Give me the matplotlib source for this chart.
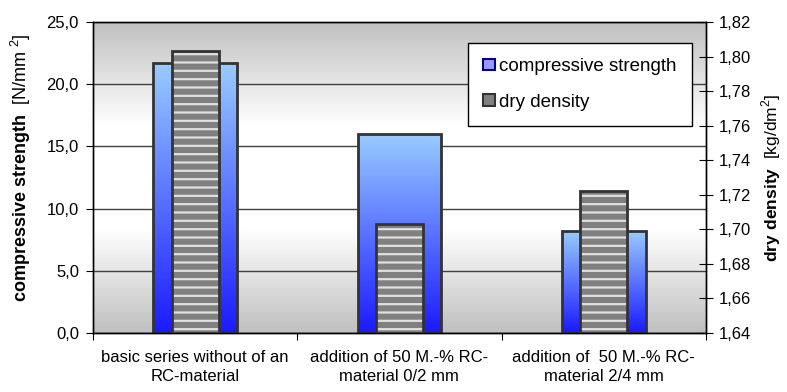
import matplotlib.pyplot as plt
import numpy as np
from matplotlib.colors import LinearSegmentedColormap
from matplotlib.patches import Patch
from matplotlib.ticker import FuncFormatter

categories = [
    "basic series without of an\nRC-material",
    "addition of 50 M.-% RC-\nmaterial 0/2 mm",
    "addition of  50 M.-% RC-\nmaterial 2/4 mm",
]
compressive_strength = [21.7, 16.0, 8.2]
dry_density = [1.803, 1.703, 1.722]

plt.rcParams["font.family"] = ["Liberation Sans", "DejaVu Sans"]
plt.rcParams["mathtext.fontset"] = "custom"
plt.rcParams["mathtext.rm"] = "Liberation Sans"
plt.rcParams["mathtext.bf"] = "Liberation Sans:bold"
plt.rcParams["hatch.linewidth"] = 1.6

fig = plt.figure(figsize=(7.87, 3.92), dpi=100)
ax = fig.add_axes([0.118, 0.1505, 0.779, 0.7935])
ax2 = ax.twinx()

x = np.arange(len(categories))

# background gradient: grey - white - grey
bg = LinearSegmentedColormap.from_list("bg", ["#c0c0c0", "#ffffff", "#ffffff", "#c0c0c0"])
ax.imshow(np.linspace(0, 1, 256).reshape(-1, 1), cmap=bg, aspect="auto",
          extent=(0, 1, 0, 1), transform=ax.transAxes, zorder=0)
ax.set_facecolor("none")
ax.yaxis.grid(True, color="#404040", lw=1)
ax.set_axisbelow(True)
for gl in ax.get_ygridlines():
    gl.set_zorder(1)

# blue bars with vertical gradient
blue = LinearSegmentedColormap.from_list("blue", ["#1a1aff", "#99ccff"])
bw = 0.41
bars = ax.bar(x, compressive_strength, width=bw, facecolor="none",
              edgecolor="#333333", lw=2, zorder=3)
for b in bars:
    im = ax.imshow(np.linspace(0, 1, 256).reshape(-1, 1), cmap=blue, origin="lower",
                   aspect="auto", extent=(b.get_x(), b.get_x() + b.get_width(), 0, b.get_height()),
                   zorder=2)
    im.set_clip_path(b)
ax.set_xlim(-0.5, 2.5)
ax.set_ylim(0, 25)
ax2.set_ylim(1.64, 1.82)

# grey striped bars
gw = 0.23
ax2.bar(x, np.array(dry_density) - 1.64, width=gw, bottom=1.64, color="#808080",
        edgecolor="#e0e0e0", hatch="--", lw=0, zorder=2)
ax2.bar(x, np.array(dry_density) - 1.64, width=gw, bottom=1.64, facecolor="none",
        edgecolor="#333333", lw=2, zorder=3)

# axes styling
ax.set_xticks([-0.5, 0.5, 1.5, 2.5])
ax.set_xticklabels([])
ax.set_xticks(x, minor=True)
ax.set_xticklabels(categories, minor=True, fontsize=12, linespacing=1.35)
ax.tick_params(axis="x", which="minor", length=0, pad=12)
ax.tick_params(axis="x", which="major", length=5, direction="out")
ax.set_yticks(np.arange(0, 26, 5))
ax.yaxis.set_major_formatter(FuncFormatter(lambda v, p: f"{v:.1f}".replace(".", ",")))
ax.tick_params(axis="y", labelsize=12, length=5, direction="out", pad=5)
ax2.set_yticks(np.arange(1.64, 1.8201, 0.02))
ax2.yaxis.set_major_formatter(FuncFormatter(lambda v, p: f"{v:.2f}".replace(".", ",")))
ax2.tick_params(axis="y", labelsize=12, length=10, direction="inout", pad=4)

for a in (ax, ax2):
    for s in a.spines.values():
        s.set_color("black")
        s.set_linewidth(1)
ax.spines["top"].set_color("#404040")

ax.set_ylabel(r"$\bf{compressive\ strength}$  [N/mm$^{\ 2}$]", fontsize=13)
ax.yaxis.set_label_coords(-0.098, 0.53)
ax2.set_ylabel(r"$\bf{dry\ density}$  [kg/dm$^2$]", fontsize=12.5)
ax2.yaxis.set_label_coords(1.088, 0.5)

handles = [
    Patch(facecolor="#9999ff", edgecolor="#000080", lw=1.5, label="compressive strength"),
    Patch(facecolor="#808080", edgecolor="#333333", lw=1.5, label="dry density"),
]
leg = ax2.legend(handles=handles, loc="upper right", bbox_to_anchor=(0.977, 0.932),
                 fontsize=13.5, frameon=True, fancybox=False, framealpha=1,
                 handlelength=0.6, handleheight=0.6, handletextpad=0.25,
                 labelspacing=1.0, borderpad=0.8, borderaxespad=0)
leg.get_frame().set_edgecolor("black")
leg.get_frame().set_linewidth(1)
leg.set_zorder(10)

fig.savefig("out.png", dpi=100)
